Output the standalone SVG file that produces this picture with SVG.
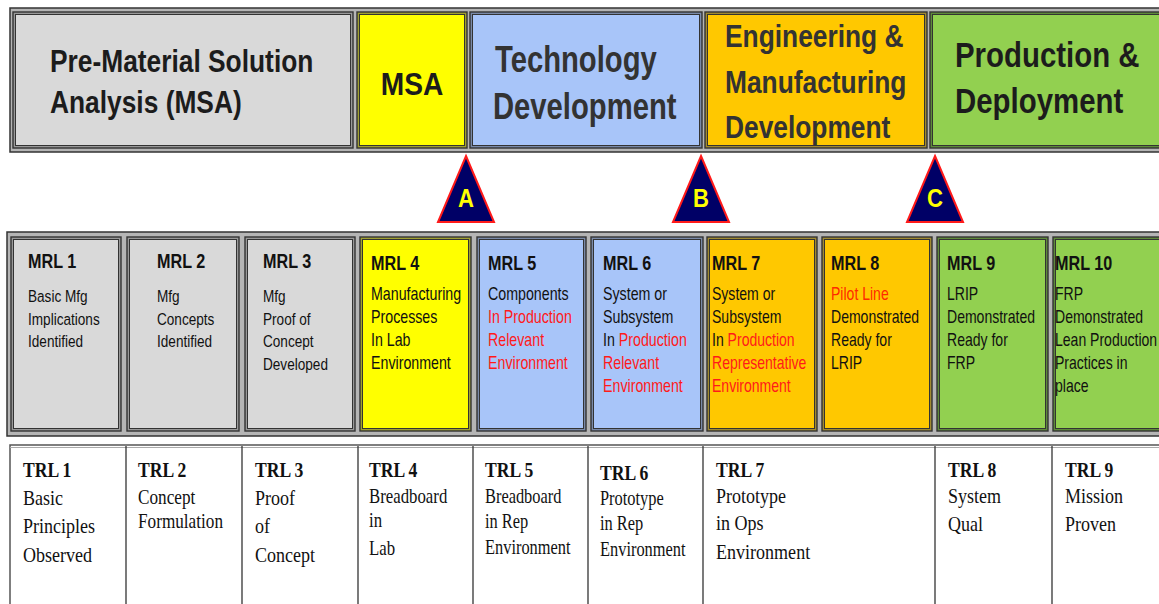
<svg xmlns="http://www.w3.org/2000/svg" width="1159" height="604" viewBox="0 0 1159 604">
<style>
.hd{font-family:"Liberation Sans",Arial,sans-serif;font-weight:bold;fill:#1c1c1c}
.td{fill:#333}
.t{font-family:"Liberation Sans",Arial,sans-serif;font-weight:bold;font-size:21px;fill:#111}
.b{font-family:"Liberation Sans",Arial,sans-serif;font-size:18px;fill:#111}
.bs{font-family:"Liberation Sans",Arial,sans-serif;font-size:17px;fill:#111}
.r{fill:#ff1a1a}
.st{font-family:"Liberation Serif","Times New Roman",serif;font-weight:bold;font-size:22px;fill:#111}
.sb{font-family:"Liberation Serif","Times New Roman",serif;font-size:22px;fill:#111}
.sm{font-family:"Liberation Serif","Times New Roman",serif;font-size:20px;fill:#111}
.frame{fill:#b5b5b5;stroke:#333;stroke-width:1.5}
.ob{stroke:#333;stroke-width:1.4}
.ib{stroke:#333;stroke-width:1}
.tri{fill:#000066;stroke:#ff1a1a;stroke-width:2;stroke-linejoin:miter}
.tl{font-family:"Liberation Sans",Arial,sans-serif;font-weight:bold;font-size:26px;fill:#ffff00;text-anchor:middle}
.div{stroke:#333;stroke-width:1.3}
</style>

<!-- Top phase bar -->
<g id="phase-bar">
<rect class="frame" x="10" y="8" width="1155" height="144"/>
</g>
<g id="phase-pre-msa">
<rect class="ob" x="13" y="12" width="340" height="136" fill="#999"/>
<rect class="ib" x="15.5" y="14.5" width="335" height="131" fill="#d9d9d9"/>
<text class="hd" font-size="31" transform="translate(50,72) scale(0.85,1)">Pre-Material Solution</text>
<text class="hd" font-size="31" transform="translate(50,113) scale(0.85,1)">Analysis (MSA)</text>
</g>
<g id="phase-msa">
<rect class="ob" x="357" y="12" width="110" height="136" fill="#a0a030"/>
<rect class="ib" x="359.5" y="14.5" width="105" height="131" fill="#ffff00"/>
<text class="hd" font-size="32" text-anchor="middle" transform="translate(412,95) scale(0.88,1)">MSA</text>
</g>
<g id="phase-td">
<rect class="ob" x="470" y="12" width="232" height="136" fill="#7a8aa8"/>
<rect class="ib" x="472.5" y="14.5" width="227" height="131" fill="#a8c5f9"/>
<text class="hd td" font-size="37" transform="translate(495,72) scale(0.79,1)">Technology</text>
<text class="hd td" font-size="37" transform="translate(493,119) scale(0.79,1)">Development</text>
</g>
<g id="phase-emd">
<rect class="ob" x="705" y="12" width="222" height="136" fill="#a08a30"/>
<rect class="ib" x="707.5" y="14.5" width="217" height="131" fill="#ffc800"/>
<text class="hd td" font-size="31" transform="translate(725,47) scale(0.85,1)">Engineering &amp;</text>
<text class="hd td" font-size="31" transform="translate(725,93) scale(0.85,1)">Manufacturing</text>
<text class="hd td" font-size="31" transform="translate(725,138) scale(0.85,1)">Development</text>
</g>
<g id="phase-pd">
<rect class="ob" x="930" y="12" width="235" height="136" fill="#5e8a3a"/>
<rect class="ib" x="932.5" y="14.5" width="230" height="131" fill="#92d050"/>
<text class="hd" font-size="35" transform="translate(955,67) scale(0.84,1)">Production &amp;</text>
<text class="hd" font-size="35" transform="translate(955,113) scale(0.84,1)">Deployment</text>
</g>

<!-- Milestones -->
<g id="milestone-a">
<polygon class="tri" points="466,156 494,222 438,222"/>
<text class="tl" transform="translate(466,207) scale(0.85,1)">A</text>
</g>
<g id="milestone-b">
<polygon class="tri" points="701,156 729,222 673,222"/>
<text class="tl" transform="translate(701,207) scale(0.85,1)">B</text>
</g>
<g id="milestone-c">
<polygon class="tri" points="935,156 963,222 907,222"/>
<text class="tl" transform="translate(935,207) scale(0.85,1)">C</text>
</g>

<!-- MRL row -->
<g id="mrl-row">
<rect class="frame" x="7" y="232" width="1158" height="204"/>
</g>
<g id="mrl1">
<rect class="ob" x="11" y="237" width="110" height="194" fill="#999"/>
<rect class="ib" x="13.5" y="239.5" width="105" height="189" fill="#d9d9d9"/>
<text class="t" transform="translate(28,268) scale(0.77,1)">MRL 1</text>
<text class="bs" transform="translate(28,302) scale(0.8,1)"><tspan x="0" y="0">Basic Mfg</tspan><tspan x="0" y="22.7">Implications</tspan><tspan x="0" y="45.4">Identified</tspan></text>
</g>
<g id="mrl2">
<rect class="ob" x="127" y="237" width="112" height="194" fill="#999"/>
<rect class="ib" x="129.5" y="239.5" width="107" height="189" fill="#d9d9d9"/>
<text class="t" transform="translate(157,268) scale(0.77,1)">MRL 2</text>
<text class="bs" transform="translate(157,302) scale(0.8,1)"><tspan x="0" y="0">Mfg</tspan><tspan x="0" y="22.7">Concepts</tspan><tspan x="0" y="45.4">Identified</tspan></text>
</g>
<g id="mrl3">
<rect class="ob" x="245" y="237" width="110" height="194" fill="#999"/>
<rect class="ib" x="247.5" y="239.5" width="105" height="189" fill="#d9d9d9"/>
<text class="t" transform="translate(263,268) scale(0.77,1)">MRL 3</text>
<text class="bs" transform="translate(263,302) scale(0.8,1)"><tspan x="0" y="0">Mfg</tspan><tspan x="0" y="22.7">Proof of</tspan><tspan x="0" y="45.4">Concept</tspan><tspan x="0" y="68.1">Developed</tspan></text>
</g>
<g id="mrl4">
<rect class="ob" x="360" y="237" width="111" height="194" fill="#a0a030"/>
<rect class="ib" x="362.5" y="239.5" width="106" height="189" fill="#ffff00"/>
<text class="t" transform="translate(371,270) scale(0.77,1)">MRL 4</text>
<text class="b" transform="translate(371,300) scale(0.79,1)"><tspan x="0" y="0">Manufacturing</tspan><tspan x="0" y="23">Processes</tspan><tspan x="0" y="46">In Lab</tspan><tspan x="0" y="69">Environment</tspan></text>
</g>
<g id="mrl5">
<rect class="ob" x="477" y="237" width="109" height="194" fill="#7a8aa8"/>
<rect class="ib" x="479.5" y="239.5" width="104" height="189" fill="#a8c5f9"/>
<text class="t" transform="translate(488,270) scale(0.77,1)">MRL 5</text>
<text class="b" transform="translate(488,300) scale(0.79,1)"><tspan x="0" y="0">Components</tspan><tspan x="0" y="23" class="r">In Production</tspan><tspan x="0" y="46" class="r">Relevant</tspan><tspan x="0" y="69" class="r">Environment</tspan></text>
</g>
<g id="mrl6">
<rect class="ob" x="591" y="237" width="112" height="194" fill="#7a8aa8"/>
<rect class="ib" x="593.5" y="239.5" width="107" height="189" fill="#a8c5f9"/>
<text class="t" transform="translate(603,270) scale(0.77,1)">MRL 6</text>
<text class="b" transform="translate(603,300) scale(0.79,1)"><tspan x="0" y="0">System or</tspan><tspan x="0" y="23">Subsystem</tspan><tspan x="0" y="46">In <tspan class="r">Production</tspan></tspan><tspan x="0" y="69" class="r">Relevant</tspan><tspan x="0" y="92" class="r">Environment</tspan></text>
</g>
<g id="mrl7">
<rect class="ob" x="707" y="237" width="110" height="194" fill="#a08a30"/>
<rect class="ib" x="709.5" y="239.5" width="105" height="189" fill="#ffc800"/>
<text class="t" transform="translate(712,270) scale(0.77,1)">MRL 7</text>
<text class="b" transform="translate(712,300) scale(0.78,1)"><tspan x="0" y="0">System or</tspan><tspan x="0" y="23">Subsystem</tspan><tspan x="0" y="46">In <tspan class="r">Production</tspan></tspan><tspan x="0" y="69" class="r">Representative</tspan><tspan x="0" y="92" class="r">Environment</tspan></text>
</g>
<g id="mrl8">
<rect class="ob" x="822" y="237" width="110" height="194" fill="#a08a30"/>
<rect class="ib" x="824.5" y="239.5" width="105" height="189" fill="#ffc800"/>
<text class="t" transform="translate(831,270) scale(0.77,1)">MRL 8</text>
<text class="b" transform="translate(831,300) scale(0.78,1)"><tspan x="0" y="0" fill="#ff2a00">Pilot Line</tspan><tspan x="0" y="23">Demonstrated</tspan><tspan x="0" y="46">Ready for</tspan><tspan x="0" y="69">LRIP</tspan></text>
</g>
<g id="mrl9">
<rect class="ob" x="937" y="237" width="111" height="194" fill="#5e8a3a"/>
<rect class="ib" x="939.5" y="239.5" width="106" height="189" fill="#92d050"/>
<text class="t" transform="translate(947,270) scale(0.77,1)">MRL 9</text>
<text class="b" transform="translate(947,300) scale(0.78,1)"><tspan x="0" y="0">LRIP</tspan><tspan x="0" y="23">Demonstrated</tspan><tspan x="0" y="46">Ready for</tspan><tspan x="0" y="69">FRP</tspan></text>
</g>
<g id="mrl10">
<rect class="ob" x="1053" y="237" width="112" height="194" fill="#5e8a3a"/>
<rect class="ib" x="1055.5" y="239.5" width="107" height="189" fill="#92d050"/>
<text class="t" transform="translate(1055,270) scale(0.77,1)">MRL 10</text>
<text class="b" transform="translate(1055,300) scale(0.78,1)"><tspan x="0" y="0">FRP</tspan><tspan x="0" y="23">Demonstrated</tspan><tspan x="0" y="46">Lean Production</tspan><tspan x="0" y="69">Practices in</tspan><tspan x="0" y="92">place</tspan></text>
</g>

<!-- TRL row -->
<g id="trl-row">
<rect x="10" y="445" width="1160" height="170" fill="#fff" stroke="#555" stroke-width="1.5"/>
<line x1="10" y1="447.5" x2="1159" y2="447.5" stroke="#aaa" stroke-width="1"/>
</g>
<g id="connectors">
<line class="div" x1="126" y1="446" x2="126" y2="604"/>
<line class="div" x1="242" y1="446" x2="242" y2="604"/>
<line class="div" x1="358" y1="446" x2="358" y2="604"/>
<line class="div" x1="473" y1="446" x2="473" y2="604"/>
<line class="div" x1="588" y1="446" x2="588" y2="604"/>
<line class="div" x1="703" y1="446" x2="703" y2="604"/>
<line class="div" x1="935" y1="446" x2="935" y2="604"/>
<line class="div" x1="1052" y1="446" x2="1052" y2="604"/>
</g>
<g id="trl1">
<text class="st" transform="translate(23,477) scale(0.8,1)">TRL 1</text>
<text class="sb" transform="translate(23,505) scale(0.82,1)"><tspan x="0" y="0">Basic</tspan><tspan x="0" y="28.5">Principles</tspan><tspan x="0" y="57">Observed</tspan></text>
</g>
<g id="trl2">
<text class="st" transform="translate(138,477) scale(0.8,1)">TRL 2</text>
<text class="sm" font-size="19" transform="translate(138,504) scale(0.86,1)"><tspan x="0" y="0">Concept</tspan><tspan x="0" y="24">Formulation</tspan></text>
</g>
<g id="trl3">
<text class="st" transform="translate(255,477) scale(0.8,1)">TRL 3</text>
<text class="sb" transform="translate(255,505) scale(0.82,1)"><tspan x="0" y="0">Proof</tspan><tspan x="0" y="28.5">of</tspan><tspan x="0" y="57">Concept</tspan></text>
</g>
<g id="trl4">
<text class="st" transform="translate(369,477) scale(0.8,1)">TRL 4</text>
<text class="sm" transform="translate(369,503) scale(0.84,1)"><tspan x="0" y="0">Breadboard</tspan><tspan x="0" y="24">in</tspan><tspan x="0" y="52">Lab</tspan></text>
</g>
<g id="trl5">
<text class="st" transform="translate(485,477) scale(0.8,1)">TRL 5</text>
<text class="sm" transform="translate(485,503) scale(0.82,1)"><tspan x="0" y="0">Breadboard</tspan><tspan x="0" y="25">in Rep</tspan><tspan x="0" y="51">Environment</tspan></text>
</g>
<g id="trl6">
<text class="st" transform="translate(600,480) scale(0.8,1)">TRL 6</text>
<text class="sm" transform="translate(600,505) scale(0.82,1)"><tspan x="0" y="0">Prototype</tspan><tspan x="0" y="25">in Rep</tspan><tspan x="0" y="51">Environment</tspan></text>
</g>
<g id="trl7">
<text class="st" transform="translate(716,477) scale(0.8,1)">TRL 7</text>
<text class="sb" transform="translate(716,503) scale(0.82,1)"><tspan x="0" y="0">Prototype</tspan><tspan x="0" y="27">in Ops</tspan><tspan x="0" y="56">Environment</tspan></text>
</g>
<g id="trl8">
<text class="st" transform="translate(948,477) scale(0.8,1)">TRL 8</text>
<text class="sb" transform="translate(948,503) scale(0.82,1)"><tspan x="0" y="0">System</tspan><tspan x="0" y="28">Qual</tspan></text>
</g>
<g id="trl9">
<text class="st" transform="translate(1065,477) scale(0.8,1)">TRL 9</text>
<text class="sb" transform="translate(1065,503) scale(0.82,1)"><tspan x="0" y="0">Mission</tspan><tspan x="0" y="28">Proven</tspan></text>
</g>
</svg>
